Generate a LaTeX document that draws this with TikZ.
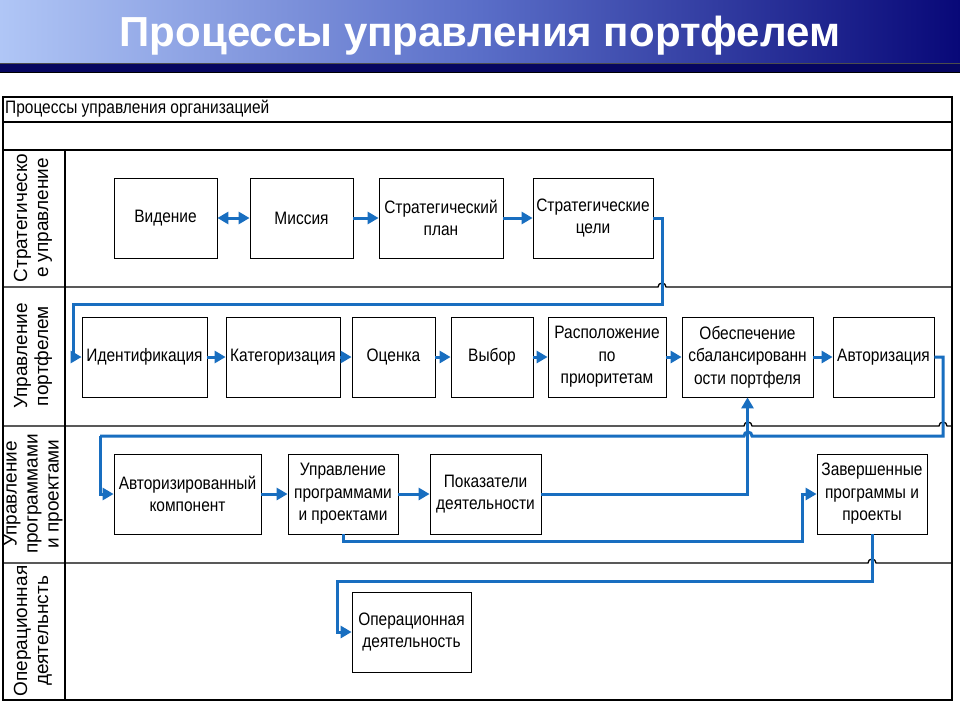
\documentclass[tikz,border=0pt]{standalone}
\usepackage{fontspec}
\setmainfont{Liberation Sans}
\newfontfamily\nar[FakeStretch=0.86]{Liberation Sans}
\usetikzlibrary{arrows.meta}
\definecolor{flowblue}{RGB}{24,110,192}
\definecolor{hdleft}{RGB}{176,198,246}
\definecolor{hdmid}{RGB}{90,110,200}
\definecolor{hdright}{RGB}{8,8,120}
\definecolor{navybar}{RGB}{6,6,96}
\tikzset{
  box/.style={draw=black, line width=0.8pt, fill=white, inner sep=0pt, align=center,
    minimum height=80pt, font=\fontsize{18}{22.5}\nar\selectfont},
  flow/.style={draw=flowblue, line width=3pt,
    -{Triangle[length=11pt,width=12pt]}},
  flowplain/.style={draw=flowblue, line width=3pt},
  dflow/.style={draw=flowblue, line width=3pt,
    {Triangle[length=11pt,width=12pt]}-{Triangle[length=11pt,width=12pt]}},
  lane/.style={draw=black, line width=1.3pt},
  lanelabel/.style={rotate=90, align=center, font=\fontsize{19}{21}\selectfont}
}
\begin{document}
\begin{tikzpicture}[x=1pt,y=-1pt]
\useasboundingbox (0,0) rectangle (960,720);
\fill[white] (0,0) rectangle (960,720);
% header
\shade[left color=hdleft, right color=hdright, middle color=hdmid] (0,0) rectangle (960,63);
\fill[navybar] (0,63) rectangle (960,72);
\draw[black!70, line width=0.6pt] (0,63) -- (960,63);
\draw[black, line width=0.8pt] (0,72) -- (960,72);
\node[text=white, font=\fontsize{42}{46}\bfseries\selectfont] (title) at (480,36) {Процессы управления портфелем};

% frame
\draw[lane] (3,97) rectangle (952,700);
\draw[lane] (3,122) -- (952,122);
\draw[lane] (3,150) -- (952,150);
\draw[lane] (65,150) -- (65,700);
\draw[lane] (3,287) -- (658,287) arc (180:360:4) -- (952,287);
\draw[lane] (3,426) -- (744,426) arc (180:360:4) -- (939,426) arc (180:360:4) -- (952,426);
\draw[lane] (3,563) -- (868,563) arc (180:360:4) -- (952,563);

\node[anchor=west, font=\fontsize{18}{20}\nar\selectfont, inner sep=0pt] (org) at (5,109) {Процессы управления организацией};

% lane labels
\node[lanelabel] (l1) at (33,218) {Стратегическо\\е управление};
\node[lanelabel] (l2) at (33,356) {Управление\\портфелем};
\node[lanelabel] (l3) at (33,494) {Управление\\программами\\и проектами};
\node[lanelabel] (l4) at (33,631) {Операционная\\деятельнсть};

% lane 1
\node[box, minimum width=103pt] (vid) at (165.5,218) {Видение};
\node[box, minimum width=103pt] (mis) at (301.5,218) {Миссия};
\node[box, minimum width=124pt] (splan) at (441,218) {Стратегический\\план};
\node[box, minimum width=120pt] (scel) at (593,218) {Стратегические\\цели};

% lane 2
\node[box, minimum width=125pt] (ident) at (144.5,357) {Идентификация};
\node[box, minimum width=114pt] (kat) at (283,357) {Категоризация};
\node[box, minimum width=83pt] (ots) at (393.5,357) {Оценка};
\node[box, minimum width=82pt] (vyb) at (492,357) {Выбор};
\node[box, minimum width=118pt] (rasp) at (607,357) {Расположение\\по\\приоритетам};
\node[box, minimum width=131pt] (obes) at (747.5,357) {Обеспечение\\сбалансированн\\ости портфеля};
\node[box, minimum width=101pt] (avt) at (883.5,357) {Авторизация};

% lane 3
\node[box, minimum width=147pt] (akomp) at (187.5,494) {Авторизированный\\компонент};
\node[box, minimum width=110pt] (upr) at (343,494) {Управление\\программами\\и проектами};
\node[box, minimum width=111pt] (pok) at (485.5,494) {Показатели\\деятельности};
\node[box, minimum width=110pt] (zav) at (872,494) {Завершенные\\программы и\\проекты};

% lane 4
\node[box, minimum width=119pt] (oper) at (411.5,632) {Операционная\\деятельность};

% connectors
\draw[dflow] (vid) -- (mis);
\draw[flow] (mis) -- (splan);
\draw[flow] (splan) -- (scel);
\draw[flow] (scel.east) -| (662,304) -| (73,357) -- (ident.west);

\draw[flow] (ident) -- (kat);
\draw[flow] (kat) -- (ots);
\draw[flow] (ots) -- (vyb);
\draw[flow] (vyb) -- (rasp);
\draw[flow] (rasp) -- (obes);
\draw[flow] (obes) -- (avt);

\draw[flowplain] (avt.east) -| (943,436) -- (752,436) arc (0:-180:4) -- (100,436);
\draw[flow] (100,436) |- (akomp.west);

\draw[flow] (akomp) -- (upr);
\draw[flow] (upr) -- (pok);
\draw[flow] (pok.east) -| (obes.south);
\draw[flow] (upr.south) |- (802,541) |- (zav.west);
\draw[flow] (zav.south) |- (337,581) |- (oper.west);
\end{tikzpicture}
\end{document}
